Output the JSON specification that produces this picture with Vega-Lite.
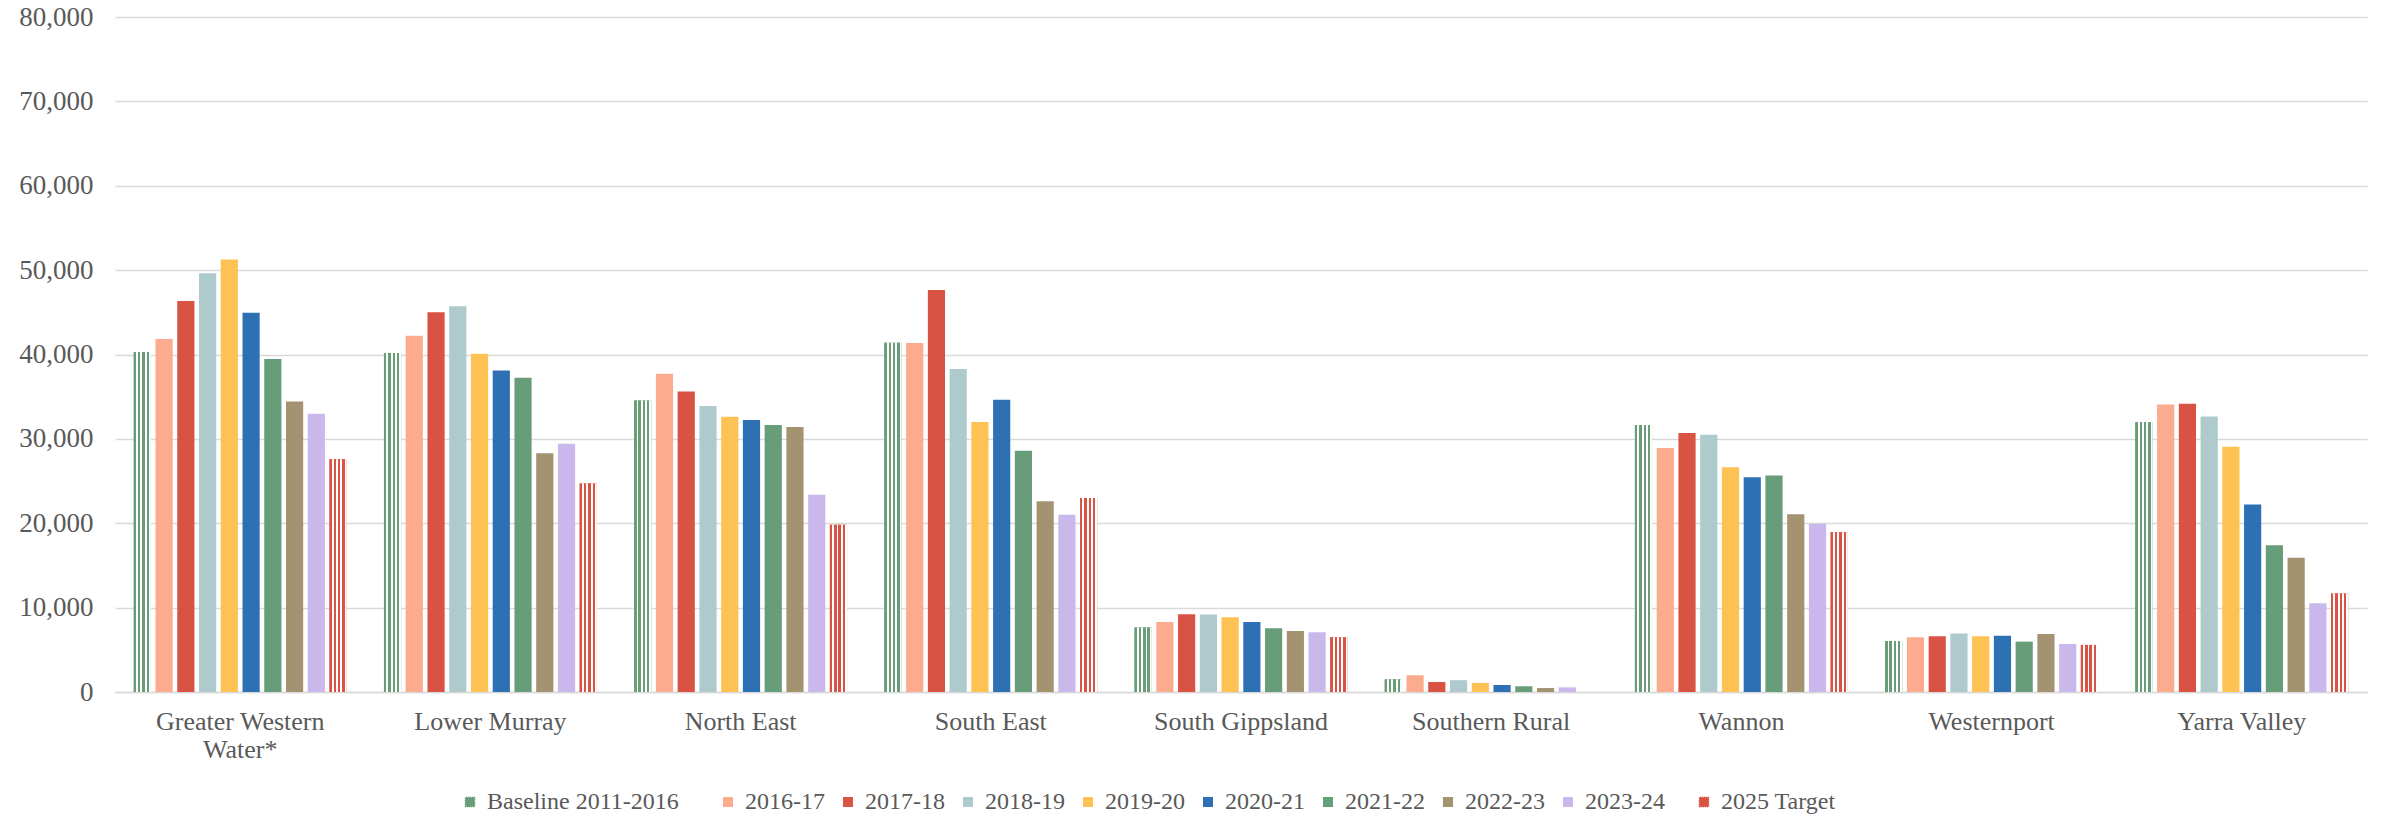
{
  "$schema": "https://vega.github.io/schema/vega-lite/v6.json",
  "width": 2252,
  "height": 675,
  "autosize": {"type": "none"},
  "padding": {"left": 115, "top": 17, "right": 22, "bottom": 122},
  "background": "white",
  "config": {
    "view": {"stroke": null},
    "font": "Liberation Serif",
    "legend": {"labelFont": "Liberation Serif", "labelFontSize": 24, "labelColor": "#595959", "labelOffset": 5, "labelLimit": 400, "padding": 0, "direction": "horizontal", "orient": "none", "legendY": 773, "title": null}
  },
  "resolve": {"scale": {"stroke": "independent"}, "legend": {"stroke": "independent"}},
  "data": {"values": [
    {"region": "Greater Western Water*", "year": "Baseline 2011-2016", "value": 40300},
    {"region": "Greater Western Water*", "year": "2016-17", "value": 41840},
    {"region": "Greater Western Water*", "year": "2017-18", "value": 46350},
    {"region": "Greater Western Water*", "year": "2018-19", "value": 49620},
    {"region": "Greater Western Water*", "year": "2019-20", "value": 51250},
    {"region": "Greater Western Water*", "year": "2020-21", "value": 44960},
    {"region": "Greater Western Water*", "year": "2021-22", "value": 39470},
    {"region": "Greater Western Water*", "year": "2022-23", "value": 34440},
    {"region": "Greater Western Water*", "year": "2023-24", "value": 32980},
    {"region": "Greater Western Water*", "year": "2025 Target", "value": 27600},
    {"region": "Lower Murray", "year": "Baseline 2011-2016", "value": 40180},
    {"region": "Lower Murray", "year": "2016-17", "value": 42230},
    {"region": "Lower Murray", "year": "2017-18", "value": 45000},
    {"region": "Lower Murray", "year": "2018-19", "value": 45710},
    {"region": "Lower Murray", "year": "2019-20", "value": 40100},
    {"region": "Lower Murray", "year": "2020-21", "value": 38110},
    {"region": "Lower Murray", "year": "2021-22", "value": 37250},
    {"region": "Lower Murray", "year": "2022-23", "value": 28310},
    {"region": "Lower Murray", "year": "2023-24", "value": 29420},
    {"region": "Lower Murray", "year": "2025 Target", "value": 24710},
    {"region": "North East", "year": "Baseline 2011-2016", "value": 34560},
    {"region": "North East", "year": "2016-17", "value": 37720},
    {"region": "North East", "year": "2017-18", "value": 35620},
    {"region": "North East", "year": "2018-19", "value": 33890},
    {"region": "North East", "year": "2019-20", "value": 32620},
    {"region": "North East", "year": "2020-21", "value": 32230},
    {"region": "North East", "year": "2021-22", "value": 31640},
    {"region": "North East", "year": "2022-23", "value": 31400},
    {"region": "North East", "year": "2023-24", "value": 23370},
    {"region": "North East", "year": "2025 Target", "value": 19810},
    {"region": "South East", "year": "Baseline 2011-2016", "value": 41400},
    {"region": "South East", "year": "2016-17", "value": 41360},
    {"region": "South East", "year": "2017-18", "value": 47650},
    {"region": "South East", "year": "2018-19", "value": 38280},
    {"region": "South East", "year": "2019-20", "value": 31990},
    {"region": "South East", "year": "2020-21", "value": 34640},
    {"region": "South East", "year": "2021-22", "value": 28590},
    {"region": "South East", "year": "2022-23", "value": 22620},
    {"region": "South East", "year": "2023-24", "value": 21000},
    {"region": "South East", "year": "2025 Target", "value": 23000},
    {"region": "South Gippsland", "year": "Baseline 2011-2016", "value": 7630},
    {"region": "South Gippsland", "year": "2016-17", "value": 8300},
    {"region": "South Gippsland", "year": "2017-18", "value": 9220},
    {"region": "South Gippsland", "year": "2018-19", "value": 9200},
    {"region": "South Gippsland", "year": "2019-20", "value": 8860},
    {"region": "South Gippsland", "year": "2020-21", "value": 8300},
    {"region": "South Gippsland", "year": "2021-22", "value": 7550},
    {"region": "South Gippsland", "year": "2022-23", "value": 7240},
    {"region": "South Gippsland", "year": "2023-24", "value": 7080},
    {"region": "South Gippsland", "year": "2025 Target", "value": 6490},
    {"region": "Southern Rural", "year": "Baseline 2011-2016", "value": 1500},
    {"region": "Southern Rural", "year": "2016-17", "value": 1980},
    {"region": "Southern Rural", "year": "2017-18", "value": 1190},
    {"region": "Southern Rural", "year": "2018-19", "value": 1400},
    {"region": "Southern Rural", "year": "2019-20", "value": 1080},
    {"region": "Southern Rural", "year": "2020-21", "value": 830},
    {"region": "Southern Rural", "year": "2021-22", "value": 680},
    {"region": "Southern Rural", "year": "2022-23", "value": 470},
    {"region": "Southern Rural", "year": "2023-24", "value": 550},
    {"region": "Wannon", "year": "Baseline 2011-2016", "value": 31640},
    {"region": "Wannon", "year": "2016-17", "value": 28910},
    {"region": "Wannon", "year": "2017-18", "value": 30690},
    {"region": "Wannon", "year": "2018-19", "value": 30490},
    {"region": "Wannon", "year": "2019-20", "value": 26650},
    {"region": "Wannon", "year": "2020-21", "value": 25460},
    {"region": "Wannon", "year": "2021-22", "value": 25660},
    {"region": "Wannon", "year": "2022-23", "value": 21080},
    {"region": "Wannon", "year": "2023-24", "value": 19930},
    {"region": "Wannon", "year": "2025 Target", "value": 18940},
    {"region": "Westernport", "year": "Baseline 2011-2016", "value": 6050},
    {"region": "Westernport", "year": "2016-17", "value": 6490},
    {"region": "Westernport", "year": "2017-18", "value": 6610},
    {"region": "Westernport", "year": "2018-19", "value": 6920},
    {"region": "Westernport", "year": "2019-20", "value": 6610},
    {"region": "Westernport", "year": "2020-21", "value": 6680},
    {"region": "Westernport", "year": "2021-22", "value": 5970},
    {"region": "Westernport", "year": "2022-23", "value": 6880},
    {"region": "Westernport", "year": "2023-24", "value": 5690},
    {"region": "Westernport", "year": "2025 Target", "value": 5580},
    {"region": "Yarra Valley", "year": "Baseline 2011-2016", "value": 31990},
    {"region": "Yarra Valley", "year": "2016-17", "value": 34080},
    {"region": "Yarra Valley", "year": "2017-18", "value": 34160},
    {"region": "Yarra Valley", "year": "2018-19", "value": 32660},
    {"region": "Yarra Valley", "year": "2019-20", "value": 29060},
    {"region": "Yarra Valley", "year": "2020-21", "value": 22220},
    {"region": "Yarra Valley", "year": "2021-22", "value": 17400},
    {"region": "Yarra Valley", "year": "2022-23", "value": 15900},
    {"region": "Yarra Valley", "year": "2023-24", "value": 10520},
    {"region": "Yarra Valley", "year": "2025 Target", "value": 11660}
  ]},
  "encoding": {
    "x": {
      "field": "region", "type": "nominal",
      "sort": ["Greater Western Water*", "Lower Murray", "North East", "South East", "South Gippsland", "Southern Rural", "Wannon", "Westernport", "Yarra Valley"],
      "scale": {"paddingInner": 0.149, "paddingOuter": 0.075},
      "axis": {
        "title": null, "labelAngle": 0, "ticks": false,
        "domainColor": "#d9d9d9", "domainWidth": 1.5,
        "labelFont": "Liberation Serif",
        "labelFontSize": 26, "labelColor": "#595959", "labelPadding": 16,
        "labelLineHeight": 28, "labelLimit": 400, "labelBaseline": "top",
        "labelExpr": "datum.label === 'Greater Western Water*' ? ['Greater Western', 'Water*'] : datum.label"
      }
    },
    "xOffset": {
      "field": "year", "type": "nominal",
      "scale": {"domain": ["Baseline 2011-2016", "2016-17", "2017-18", "2018-19", "2019-20", "2020-21", "2021-22", "2022-23", "2023-24", "2025 Target"], "paddingInner": 0.21, "paddingOuter": 0}
    },
    "y": {
      "field": "value", "type": "quantitative",
      "scale": {"domain": [0, 80000], "nice": false},
      "axis": {
        "title": null, "values": [0, 10000, 20000, 30000, 40000, 50000, 60000, 70000, 80000],
        "format": ",.0f", "domain": false, "ticks": false,
        "gridColor": "#d9d9d9", "gridWidth": 1.5,
        "labelFont": "Liberation Serif",
        "labelFontSize": 27, "labelColor": "#595959", "labelPadding": 22
      }
    }
  },
  "layer": [
    {
      "mark": {"type": "bar"},
      "encoding": {
        "color": {
          "field": "year", "type": "nominal",
          "scale": {
            "domain": ["Baseline 2011-2016", "2016-17", "2017-18", "2018-19", "2019-20", "2020-21", "2021-22", "2022-23", "2023-24", "2025 Target"],
            "range": ["#6a9c78", "#fcab8f", "#d85343", "#aecacd", "#fdc253", "#2d70b3", "#689d79", "#a39371", "#cab8ec", "#d85343"]
          },
          "legend": {
            "values": ["2016-17", "2017-18", "2018-19", "2019-20", "2020-21", "2021-22", "2022-23", "2023-24"],
            "legendX": 601, "columns": 8, "columnPadding": 11,
            "symbolType": "square", "symbolSize": 100, "symbolStrokeWidth": 0
          }
        }
      }
    },
    {
      "transform": [{"filter": {"field": "year", "equal": "Baseline 2011-2016"}}],
      "mark": {"type": "bar", "strokeWidth": 0, "fill": {"gradient": "linear", "x1": 0, "y1": 0, "x2": 1, "y2": 0, "stops": [
        {"offset": 0, "color": "#6a9c78"}, {"offset": 0.14, "color": "#6a9c78"}, {"offset": 0.14, "color": "#ffffff"}, {"offset": 0.25, "color": "#ffffff"},
        {"offset": 0.25, "color": "#6a9c78"}, {"offset": 0.39, "color": "#6a9c78"}, {"offset": 0.39, "color": "#ffffff"}, {"offset": 0.5, "color": "#ffffff"},
        {"offset": 0.5, "color": "#6a9c78"}, {"offset": 0.64, "color": "#6a9c78"}, {"offset": 0.64, "color": "#ffffff"}, {"offset": 0.75, "color": "#ffffff"},
        {"offset": 0.75, "color": "#6a9c78"}, {"offset": 0.89, "color": "#6a9c78"}, {"offset": 0.89, "color": "#ffffff"}, {"offset": 1, "color": "#ffffff"}]}},
      "encoding": {
        "stroke": {
          "field": "year", "type": "nominal",
          "scale": {"domain": ["Baseline 2011-2016"], "range": ["#6a9c78"]},
          "legend": {
            "legendX": 343, "columns": 1, "columnPadding": 11,
            "symbolType": "M-1,-0.6L-0.6,-1M-1,-0.2L-0.2,-1M-1,0.2L0.2,-1M-1,0.6L0.6,-1M-1,1L1,-1M-0.6,1L1,-0.6M-0.2,1L1,-0.2M0.2,1L1,0.2M0.6,1L1,0.6",
            "symbolSize": 100, "symbolStrokeWidth": 1.6, "symbolFillColor": "transparent"
          }
        }
      }
    },
    {
      "transform": [{"filter": {"field": "year", "equal": "2025 Target"}}],
      "mark": {"type": "bar", "strokeWidth": 0, "fill": {"gradient": "linear", "x1": 0, "y1": 0, "x2": 1, "y2": 0, "stops": [
        {"offset": 0, "color": "#d85343"}, {"offset": 0.14, "color": "#d85343"}, {"offset": 0.14, "color": "#ffffff"}, {"offset": 0.25, "color": "#ffffff"},
        {"offset": 0.25, "color": "#d85343"}, {"offset": 0.39, "color": "#d85343"}, {"offset": 0.39, "color": "#ffffff"}, {"offset": 0.5, "color": "#ffffff"},
        {"offset": 0.5, "color": "#d85343"}, {"offset": 0.64, "color": "#d85343"}, {"offset": 0.64, "color": "#ffffff"}, {"offset": 0.75, "color": "#ffffff"},
        {"offset": 0.75, "color": "#d85343"}, {"offset": 0.89, "color": "#d85343"}, {"offset": 0.89, "color": "#ffffff"}, {"offset": 1, "color": "#ffffff"}]}},
      "encoding": {
        "stroke": {
          "field": "year", "type": "nominal",
          "scale": {"domain": ["2025 Target"], "range": ["#d85343"]},
          "legend": {
            "legendX": 1577, "columns": 1, "columnPadding": 11,
            "symbolType": "M-1,-0.6L-0.6,-1M-1,-0.2L-0.2,-1M-1,0.2L0.2,-1M-1,0.6L0.6,-1M-1,1L1,-1M-0.6,1L1,-0.6M-0.2,1L1,-0.2M0.2,1L1,0.2M0.6,1L1,0.6",
            "symbolSize": 100, "symbolStrokeWidth": 1.6, "symbolFillColor": "transparent"
          }
        }
      }
    }
  ]
}
